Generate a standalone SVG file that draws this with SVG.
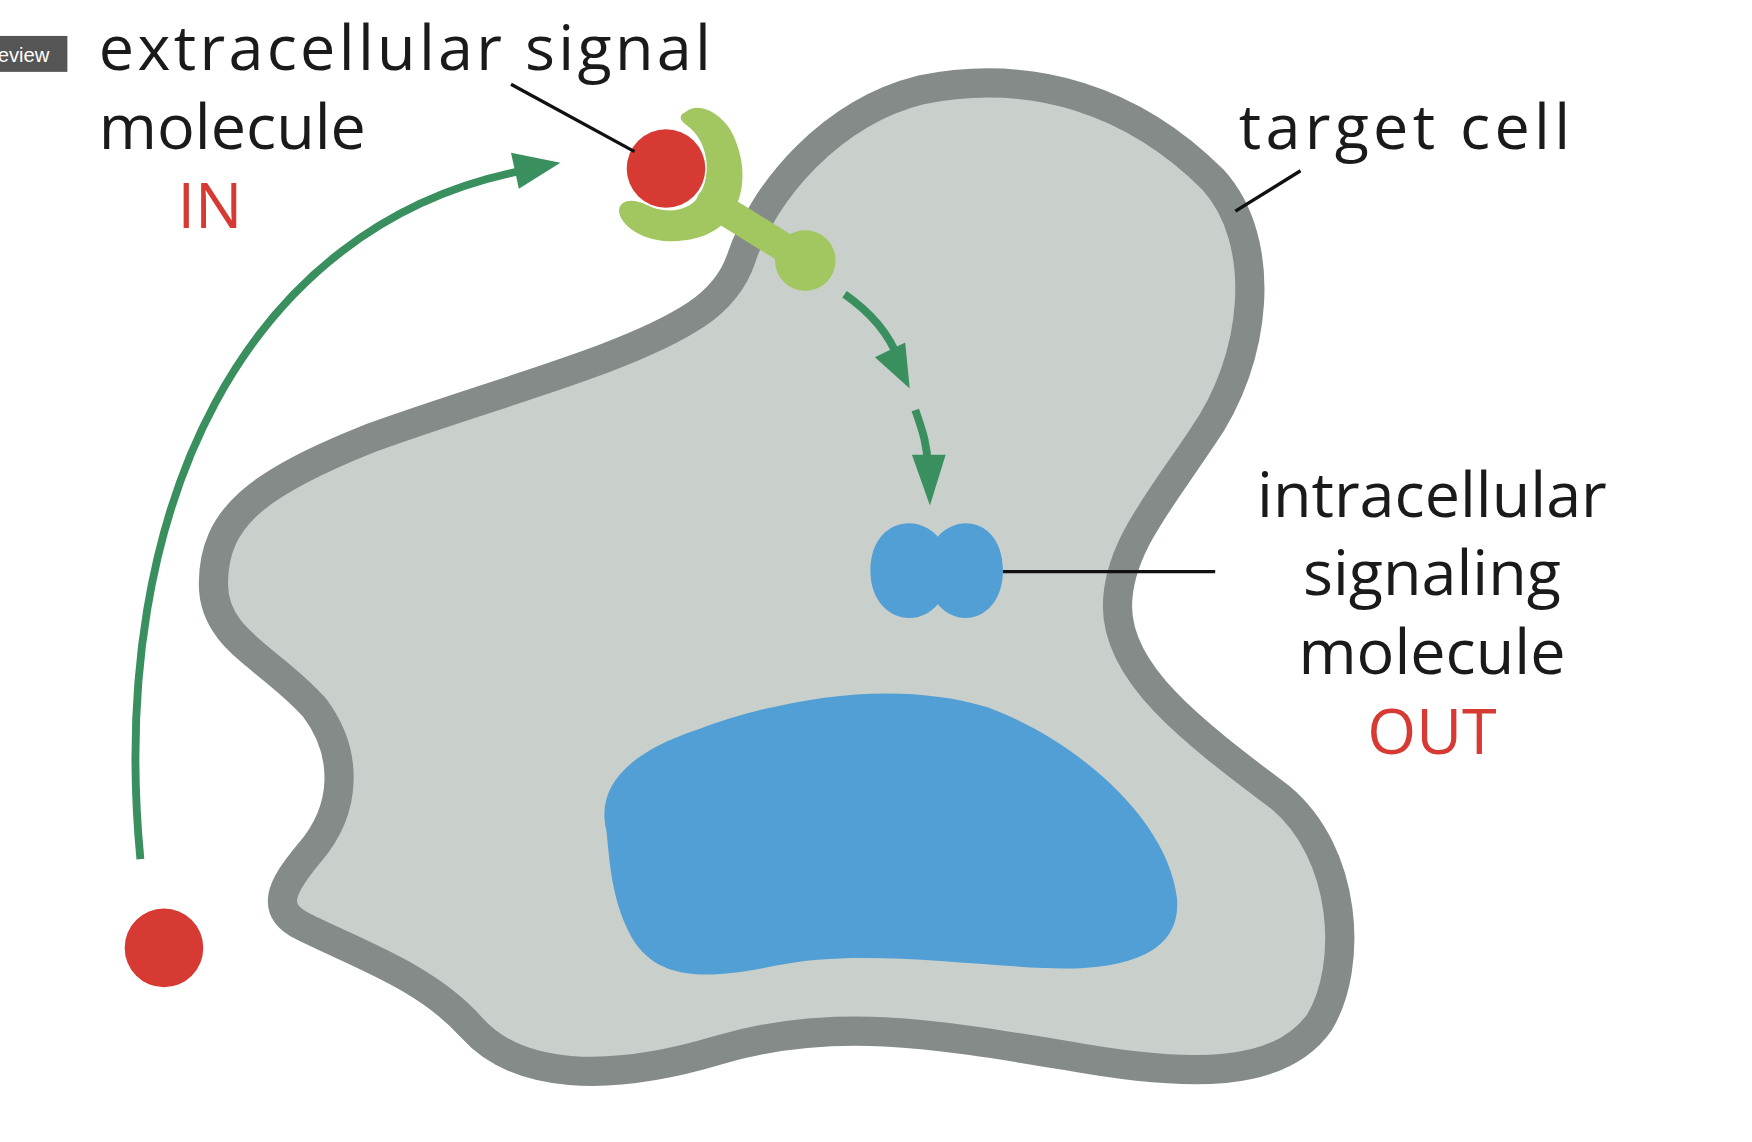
<svg xmlns="http://www.w3.org/2000/svg" width="1752" height="1142" viewBox="0 0 1752 1142">
<style>
.lbl{font-family:"Open Sans","Liberation Sans",sans-serif;font-size:56px;fill:#1a1a1a}
.red{fill:#d63a33}
.ln{stroke:#111;stroke-width:3;fill:none}
.ga{stroke:#3a8f5e;stroke-width:7;fill:none}
.gh{fill:#3a8f5e}
</style>
<rect width="1752" height="1142" fill="#fff"/>
<g transform="scale(1.1231)">
<g id="tag"><rect x="-5" y="32" width="65" height="32" fill="#555"/><text x="-2" y="55" font-family="Liberation Sans,sans-serif" font-size="18" fill="#fff">eview</text></g>
<g id="cell">
<path d="M660,230 C680,170 740,100 820,80 C920,60 1010,90 1080,160 C1130,215 1120,320 1070,390 C1030,450 995,490 995,540 C995,600 1060,650 1140,710 C1200,760 1205,860 1175,910 C1140,960 1060,960 950,940 C830,920 740,905 640,935 C540,965 460,960 420,915 C380,870 320,850 270,825 C240,810 250,790 275,760 C310,720 310,670 280,630 C240,585 190,570 190,520 C190,460 230,430 330,390 C440,350 560,320 620,280 C645,263 655,245 660,230 Z" fill="#c9d0cb" stroke="#848b89" stroke-width="26"/>
</g>
<g id="nucleus"><path d="M540,740 C530,700 560,670 620,650 C700,620 800,605 880,630 C960,660 1040,730 1048,800 C1052,850 1000,865 930,862 C850,858 760,845 690,860 C620,875 580,870 560,830 C545,800 543,770 540,740 Z" fill="#529fd6"/></g>
<g id="intracellular"><path d="M835,478 C815,455 775,465 775,508 C775,550 815,562 835,538 C855,562 893,550 893,508 C893,465 855,455 835,478 Z" fill="#529fd6"/></g>
<g id="signal-in"><circle cx="146" cy="844" r="35" fill="#d63a33"/></g>
<g id="receptor">
<path d="M633,180 L717,232" stroke="#a2c761" stroke-width="26" stroke-linecap="round"/>
<circle cx="717" cy="232" r="27" fill="#a2c761"/>
<path d="M610,100 C622,90 640,100 650,115 C670,150 665,200 620,212 C590,220 560,210 552,192 C548,180 560,175 575,182 C590,190 612,190 622,175 C635,155 630,125 612,112 C605,107 604,103 610,100 Z" fill="#a2c761"/>
<circle cx="593" cy="150" r="35" fill="#d63a33"/>
</g>
<g id="connectors">
<path class="ln" d="M455,75 L565,135"/>
<path class="ln" d="M1158,152 L1100,188"/>
<path class="ln" d="M893,509 L1082,509"/>
<path class="ga" d="M125,765 C95,450 220,200 465,152"/>
<polygon class="gh" points="499,145 455,136 462,168"/>
<path class="ga" d="M752,262 C775,278 792,298 800,320"/>
<polygon class="gh" points="810,346 779,318 806,305"/>
<path class="ga" d="M815,365 C822,385 826,398 826,415"/>
<polygon class="gh" points="828,450 812,405 842,405"/>
</g>
<g id="labels">
<text class="lbl" x="88" y="62" textLength="545">extracellular signal</text>
<text class="lbl" x="88" y="133">molecule</text>
<text class="lbl red" x="158" y="203">IN</text>
<text class="lbl" x="1103" y="133" textLength="295">target cell</text>
<text class="lbl" x="1275" y="460" text-anchor="middle">intracellular</text>
<text class="lbl" x="1275" y="530" text-anchor="middle">signaling</text>
<text class="lbl" x="1275" y="600" text-anchor="middle">molecule</text>
<text class="lbl red" x="1275" y="671" text-anchor="middle">OUT</text>
</g>
</g>
</svg>
